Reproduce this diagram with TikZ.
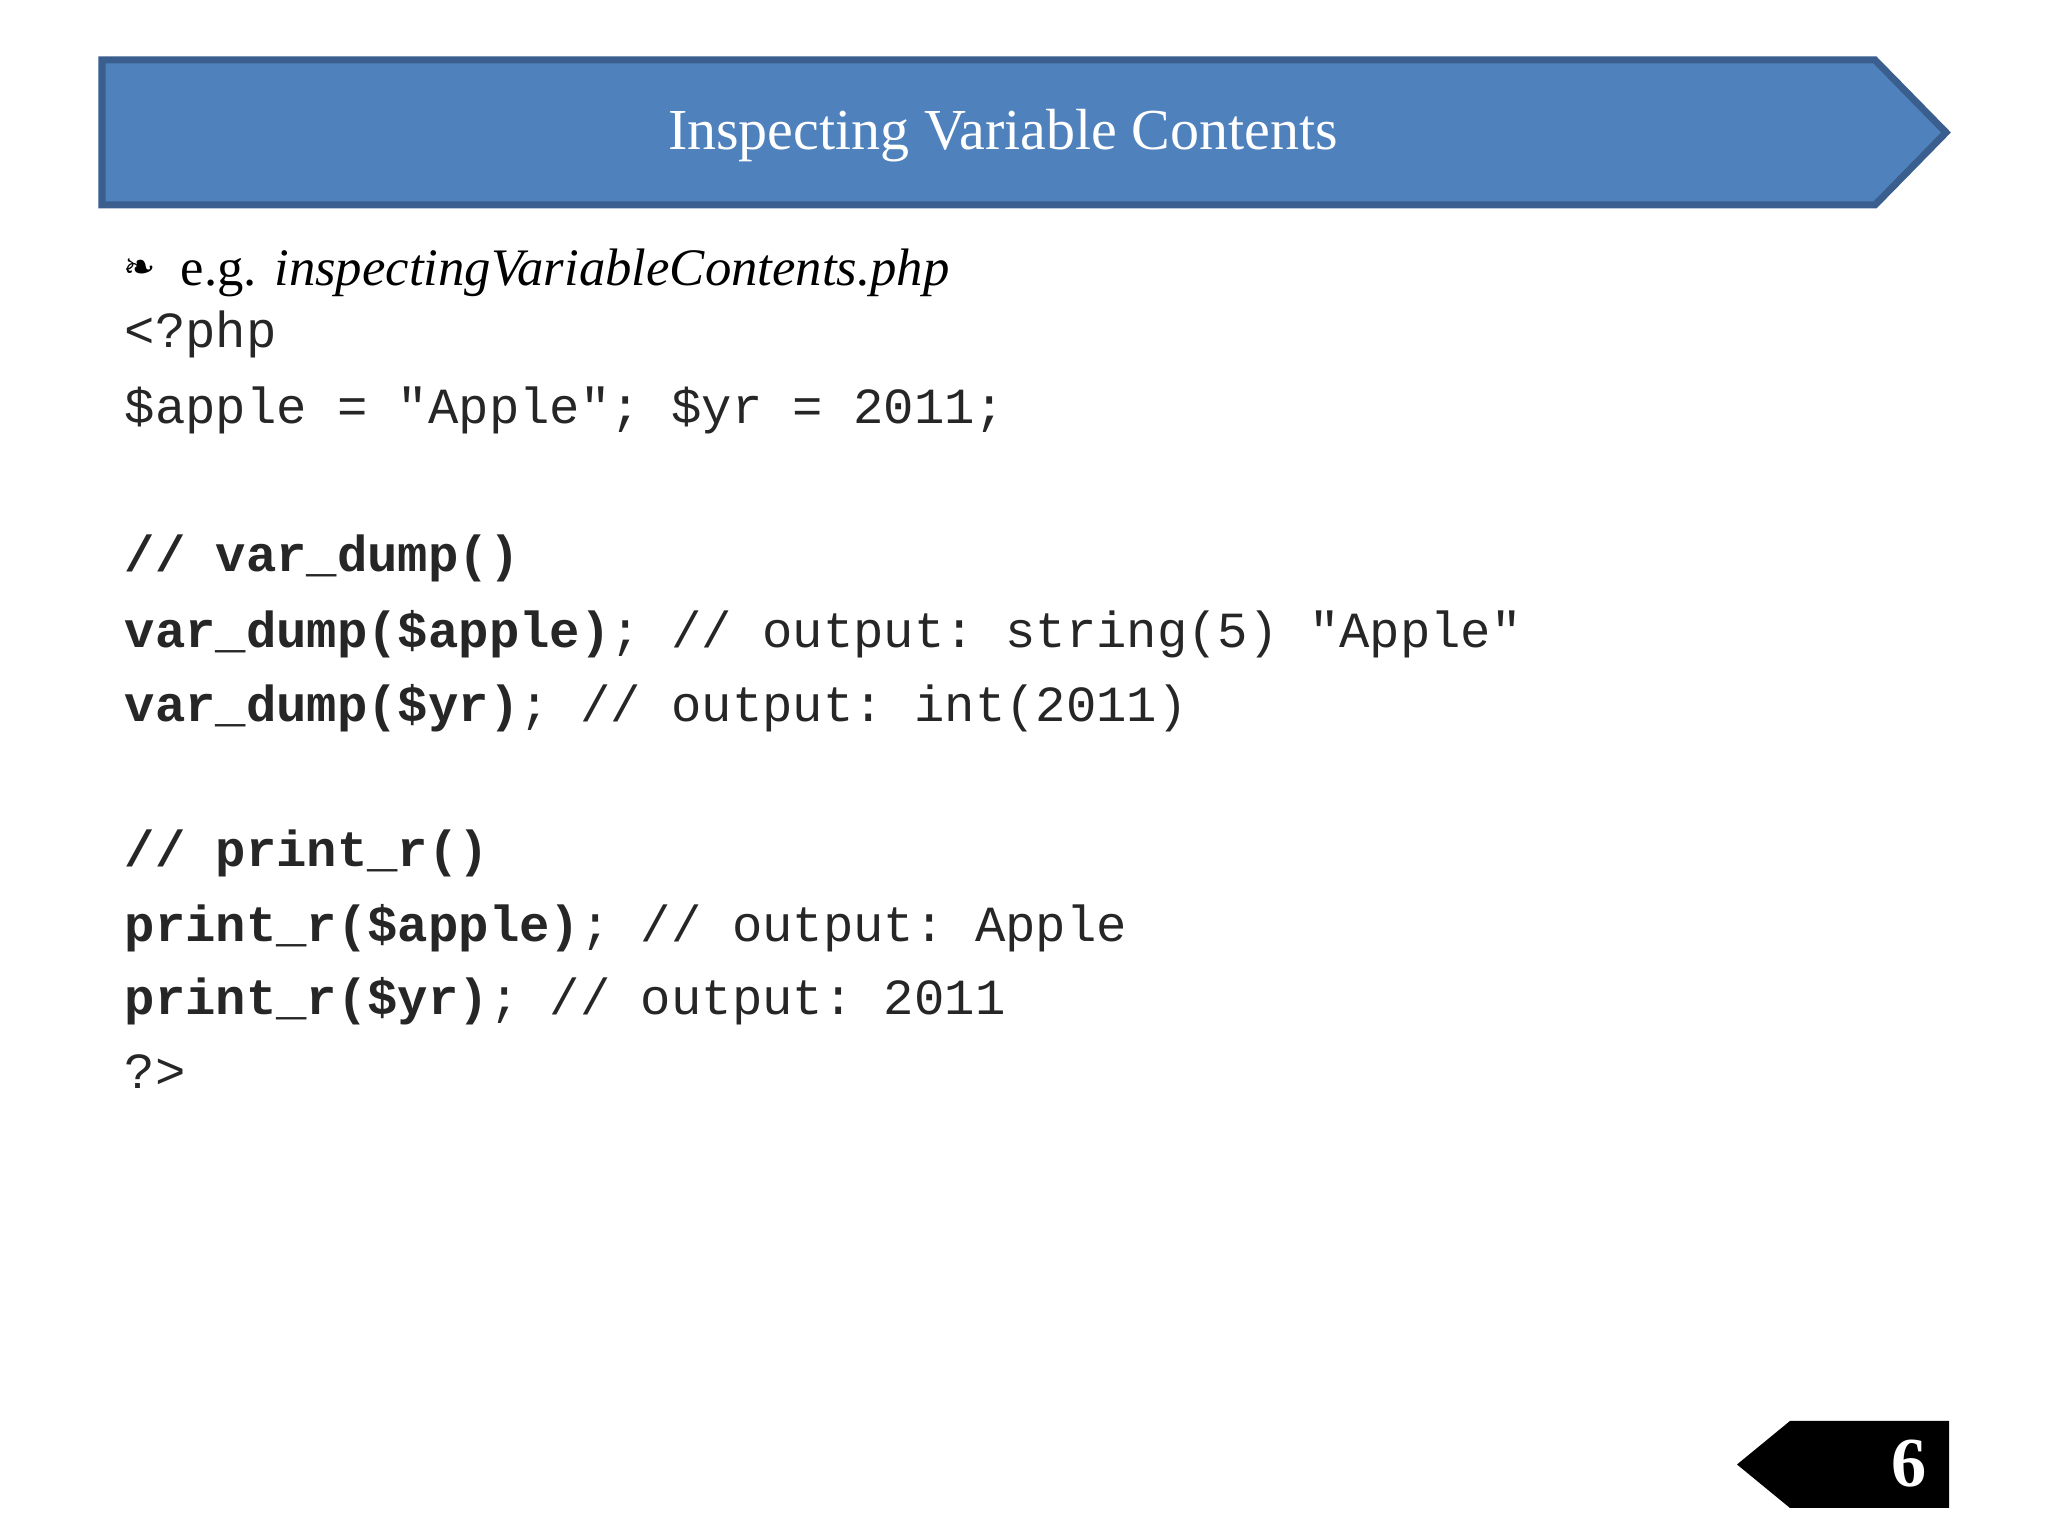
\documentclass[tikz,border=0pt]{standalone}
\usepackage{fontspec}
\setmainfont{Liberation Serif}
\setmonofont{Liberation Mono}
\newfontfamily\dejavu{DejaVu Sans}
\begin{document}
\begin{tikzpicture}
\useasboundingbox (0,0) rectangle (20.48,15.36);
\tikzset{code/.style={anchor=base west,inner sep=0pt,font=\fontsize{14.4}{17}\ttfamily,text=black!85}}
\definecolor{bannerblue}{HTML}{4F81BD}
\definecolor{bannerline}{HTML}{3A5F8F}
\fill[white] (0,0) rectangle (20.48,15.36);
\draw[fill=bannerblue,draw=bannerline,line width=2pt] (1.02,14.76) -- (18.75,14.76) -- (19.46,14.035) -- (18.75,13.31) -- (1.02,13.31) -- cycle;
\node[text=white,font=\fontsize{16.5}{20}\selectfont] (title) at (10.03,14.0) {Inspecting Variable Contents};
\node[anchor=base,inner sep=0pt,font=\dejavu\fontsize{11}{13}\selectfont] (bul) at (1.4,12.55) {❧};
\node[anchor=base west,inner sep=0pt,font=\fontsize{15}{18}\selectfont] (eg) at (1.80,12.5) {e.g. \textit{inspectingVariableContents.php}};
\node[code] (l1) at (1.24,11.88) {<?php};
\node[code] (l2) at (1.24,11.12) {\$apple = "Apple"; \$yr = 2011;};
\node[code] (l3) at (1.24,9.64) {\textbf{// var\_dump()}};
\node[code] (l4) at (1.24,8.88) {\textbf{var\_dump(\$apple)}; // output: string(5) "Apple"};
\node[code] (l5) at (1.24,8.14) {\textbf{var\_dump(\$yr)}; // output: int(2011)};
\node[code] (l6) at (1.24,6.69) {\textbf{// print\_r()}};
\node[code] (l7) at (1.24,5.94) {\textbf{print\_r(\$apple)}; // output: Apple};
\node[code] (l8) at (1.24,5.21) {\textbf{print\_r(\$yr)}; // output: 2011};
\node[code] (l9) at (1.24,4.47) {?>};
\fill[black] (17.37,0.715) -- (17.9,1.15) -- (19.49,1.15) -- (19.49,0.28) -- (17.9,0.28) -- cycle;
\node[text=white,font=\bfseries\fontsize{20}{24}\selectfont] (pg) at (19.09,0.72) {6};
\end{tikzpicture}
\end{document}
